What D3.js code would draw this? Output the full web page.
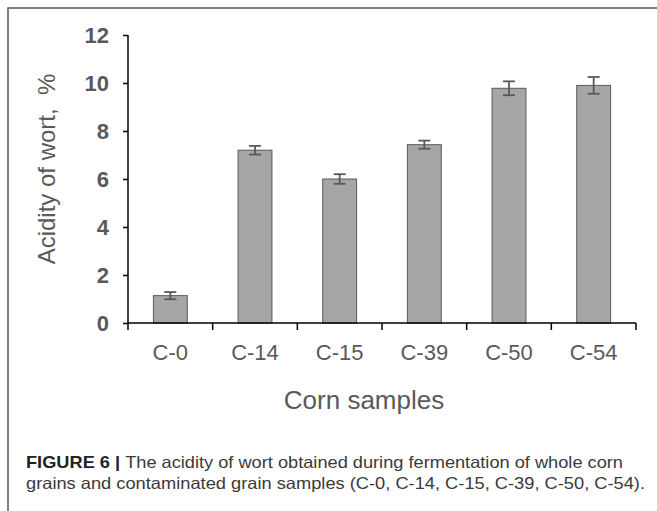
<!DOCTYPE html>
<html>
<head>
<meta charset="utf-8">
<script src="https://cdn.jsdelivr.net/npm/d3@7"></script>
<style>
  html, body { margin: 0; padding: 0; background: #fff; }
  svg { display: block; }
  text { font-family: "Liberation Sans", Arial, sans-serif; }
</style>
</head>
<body>
<svg id="chart" width="657" height="511"></svg>
<script>
const categories = ["C-0", "C-14", "C-15", "C-39", "C-50", "C-54"];
const values = [1.14, 7.2, 6.0, 7.43, 9.78, 9.9];
const errors = [0.15, 0.18, 0.2, 0.17, 0.29, 0.35];
const yTicks = [0, 2, 4, 6, 8, 10, 12];
const yTitle = "Acidity of wort,  %";
const xTitle = "Corn samples";
const captionBold = "FIGURE 6 | ";
const captionLine1 = "The acidity of wort obtained during fermentation of whole corn";
const captionLine2 = "grains and contaminated grain samples (C-0, C-14, C-15, C-39, C-50, C-54).";

const svg = d3.select("#chart");
const margin = { left: 128, right: 21, top: 35, bottom: 188 };
const W = 657, H = 511;

// frame (left and top lines)
svg.append("path")
  .attr("d", "M8,511V8H657")
  .attr("fill", "none")
  .attr("stroke", "#555")
  .attr("stroke-width", 1.5);

const x = d3.scaleBand()
  .domain(categories)
  .range([margin.left, W - margin.right])
  .paddingInner(0.6)
  .paddingOuter(0.3);

const y = d3.scaleLinear()
  .domain([0, 12])
  .range([H - margin.bottom, margin.top]);

// bars
svg.append("g").selectAll("rect")
  .data(categories)
  .join("rect")
  .attr("x", (d) => x(d))
  .attr("width", x.bandwidth())
  .attr("y", (d, i) => y(values[i]))
  .attr("height", (d, i) => y(0) - y(values[i]))
  .attr("fill", "#a6a6a6")
  .attr("stroke", "#595959")
  .attr("stroke-width", 1);

// error bars
const eg = svg.append("g").attr("stroke", "#595959").attr("stroke-width", 1.8).attr("fill", "none");
categories.forEach((c, i) => {
  const cx = x(c) + x.bandwidth() / 2;
  const y1 = y(values[i] + errors[i]);
  const y2 = y(values[i] - errors[i]);
  eg.append("line").attr("x1", cx).attr("x2", cx).attr("y1", y1).attr("y2", y2);
  eg.append("line").attr("x1", cx - 6).attr("x2", cx + 6).attr("y1", y1).attr("y2", y1);
  eg.append("line").attr("x1", cx - 6).attr("x2", cx + 6).attr("y1", y2).attr("y2", y2);
});

// y axis
const yAxis = svg.append("g")
  .attr("transform", `translate(${margin.left},0)`)
  .call(d3.axisLeft(y).tickValues(yTicks).tickSize(5).tickPadding(14).tickFormat(d3.format("d")));
yAxis.select(".domain").attr("stroke", "#000").attr("stroke-width", 1.5).attr("d", `M0,${y(12)}V${y(0)}`);
yAxis.selectAll(".tick line").attr("stroke", "#000").attr("stroke-width", 1.5);
yAxis.selectAll(".tick text")
  .attr("fill", "#595959")
  .attr("font-size", 22)
  .attr("font-weight", "bold")
  .attr("font-family", "Liberation Sans, Arial, sans-serif");

// x axis with category-boundary ticks
const xg = svg.append("g");
const x0 = margin.left, x1 = W - margin.right;
xg.append("line")
  .attr("x1", x0).attr("x2", x1)
  .attr("y1", y(0)).attr("y2", y(0))
  .attr("stroke", "#000").attr("stroke-width", 1.5);
const boundaries = d3.range(categories.length + 1).map((i) => x0 + i * (x1 - x0) / categories.length);
xg.selectAll("line.tk")
  .data(boundaries)
  .join("line")
  .attr("class", "tk")
  .attr("x1", (d) => d).attr("x2", (d) => d)
  .attr("y1", y(0)).attr("y2", y(0) + 7)
  .attr("stroke", "#000").attr("stroke-width", 1.5);
xg.selectAll("text")
  .data(categories)
  .join("text")
  .attr("x", (d) => x(d) + x.bandwidth() / 2)
  .attr("y", 360)
  .attr("text-anchor", "middle")
  .attr("fill", "#595959")
  .attr("font-size", 22)
  .text((d) => d);

// axis titles
svg.append("text")
  .attr("x", 364)
  .attr("y", 409)
  .attr("text-anchor", "middle")
  .attr("fill", "#595959")
  .attr("font-size", 26)
  .text(xTitle);

svg.append("text")
  .attr("transform", "translate(55,169) rotate(-90)")
  .attr("text-anchor", "middle")
  .attr("fill", "#595959")
  .attr("font-size", 24)
  .style("white-space", "pre")
  .text(yTitle);

// caption
const cap1 = svg.append("text")
  .attr("x", 26).attr("y", 468)
  .attr("font-size", 16.5)
  .attr("fill", "#3a3a3a");
cap1.append("tspan").attr("font-weight", "bold").attr("fill", "#222").style("white-space", "pre").text(captionBold);
cap1.append("tspan").text(captionLine1);
cap1.attr("textLength", 623 - 26).attr("lengthAdjust", "spacingAndGlyphs");

const cap2 = svg.append("text")
  .attr("x", 26).attr("y", 489)
  .attr("font-size", 16.5)
  .attr("fill", "#3a3a3a")
  .text(captionLine2);
cap2.attr("textLength", 645 - 26).attr("lengthAdjust", "spacingAndGlyphs");
</script>
</body>
</html>
